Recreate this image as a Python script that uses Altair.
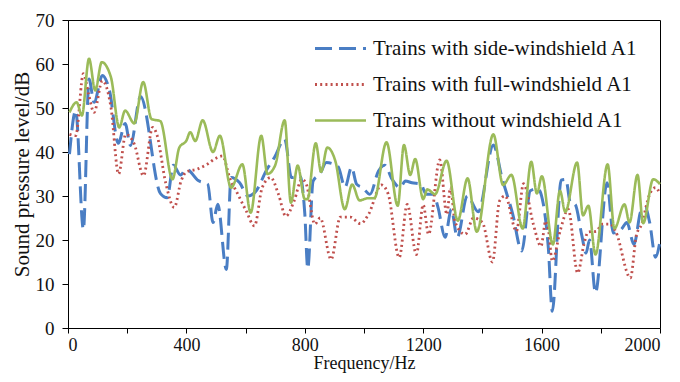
import altair as alt
import pandas as pd

series_names = [
    "Trains with side-windshield A1",
    "Trains with full-windshield A1",
    "Trains without windshield A1",
]
series_colors = ["#4A7EC4", "#C0504D", "#9BBB59"]
series_dashes = [[17, 7], [2, 3.2], [1, 0]]
series_widths = [3, 2.6, 3.2]

x_ticks = list(range(0, 2001, 200))
y_ticks = list(range(0, 71, 10))

# Trains with side-windshield A1
side_f = [5, 26, 52, 71, 88, 116, 140, 170, 193, 211, 245, 312, 335, 356, 380, 400,
          440, 472, 490, 506, 535, 551, 580, 608, 636, 670, 698, 732, 755, 783, 800,
          810, 828, 851, 873, 912, 936, 958, 975, 995, 1020, 1049, 1070, 1095, 1122,
          1140, 1162, 1192, 1210, 1235, 1250, 1274, 1295, 1315, 1349, 1386, 1437,
          1466, 1502, 1533, 1562, 1587, 1606, 1623, 1636, 1666, 1682, 1697, 1713,
          1736, 1750, 1762, 1782, 1821, 1842, 1870, 1888, 1912, 1935, 1950, 1965,
          1985, 2000]
side_db = [39.5, 49.4, 22.4, 56.6, 51.3, 57.4, 54, 42, 46.5, 41.5, 52.6, 30.6, 29.6,
           37, 34.8, 36.1, 33.5, 32.7, 24, 28.1, 13.3, 34.2, 33, 30, 31.2, 35.8, 38.8,
           42.9, 34.2, 34.6, 26, 13.5, 33.4, 35, 37.6, 36.7, 32, 36.5, 32.7, 31.9,
           30.4, 35.7, 37, 33.8, 31.9, 33.4, 33, 32.7, 30.4, 30.4, 27.4, 20.6, 27,
           20.6, 30, 26.4, 41.6, 34.2, 26, 17.5, 31.2, 31.7, 28.1, 18, 3.8, 33.6,
           33.8, 28.5, 28.1, 21, 17, 20, 8, 33, 21.6, 22.5, 24, 19, 26.5, 27.4, 24,
           16.1, 19.7]

# Trains with full-windshield A1
full_f = [5, 26, 52, 70, 88, 116, 145, 171, 195, 224, 255, 286, 300, 330, 359, 382,
          400, 436, 470, 500, 522, 546, 574, 602, 630, 656, 685, 711, 736, 764, 790,
          805, 834, 852, 889, 920, 954, 988, 1015, 1059, 1082, 1119, 1146, 1177,
          1200, 1218, 1256, 1280, 1292, 1308, 1342, 1370, 1400, 1434, 1458, 1477,
          1515, 1539, 1572, 1598, 1614, 1623, 1636, 1664, 1690, 1722, 1743, 1757,
          1785, 1805, 1832, 1850, 1900, 1920, 1938, 1965, 1985, 2000]
full_db = [44, 43.7, 57.8, 53, 49, 56.2, 50.2, 35, 44, 41.8, 34.6, 45.6, 44, 33,
           27.4, 33.4, 35.5, 36.1, 37.2, 38.6, 39.1, 34.2, 30.4, 26.6, 23.2, 31.9,
           34.2, 30.4, 25.4, 28.9, 33.8, 32.7, 23.6, 25, 15.6, 25.2, 25.2, 23.7,
           25.8, 32.5, 30.4, 16, 28.1, 16.7, 28, 21.3, 38.2, 25.8, 31.9, 24, 21.3,
           25, 24, 15, 28.9, 30, 22, 32.8, 23.6, 18.6, 24.3, 22.4, 15.2, 22.4, 27,
           12.5, 19, 21.8, 22, 23.6, 23.6, 22, 11.4, 21, 23.6, 30.4, 31.9, 30.4]

# Trains without windshield A1
none_f = [5, 29, 47, 71, 92, 114, 145, 173, 193, 224, 254, 282, 312, 353, 376, 400,
          413, 430, 455, 490, 513, 551, 589, 617, 653, 674, 700, 732, 753, 776, 800,
          809, 837, 855, 876, 903, 935, 960, 985, 1013, 1035, 1076, 1114, 1135, 1156,
          1173, 1200, 1214, 1240, 1279, 1317, 1350, 1381, 1437, 1470, 1498, 1536,
          1565, 1584, 1601, 1638, 1662, 1680, 1720, 1740, 1758, 1782, 1823, 1846,
          1880, 1897, 1924, 1943, 1977, 2000]
none_db = [49, 51.3, 48.3, 61.2, 54, 60.4, 57, 45.6, 49.4, 46.5, 55.9, 47.5, 47,
           33.8, 41, 42.6, 44.5, 42.5, 47.2, 40, 43.7, 31.9, 37.2, 26.2, 43.7, 35,
           37, 47.2, 28.5, 36.9, 29.3, 29.3, 42, 35.5, 41, 38, 27, 32.6, 29, 29.5,
           29.5, 42.2, 27.8, 41.6, 34.8, 38.4, 29.3, 31.5, 30.4, 38, 24.4, 34, 21.9,
           44, 32.5, 34.8, 22.6, 37.8, 30.6, 34.5, 19, 31.2, 26.4, 37.6, 25.6, 27.8,
           16.7, 37.2, 22.6, 28.1, 24, 34.8, 23.8, 33.8, 32.7]

rows = []
for name, fs, ds in zip(series_names, [side_f, full_f, none_f], [side_db, full_db, none_db]):
    for f, d in zip(fs, ds):
        rows.append({"series": name, "freq": f, "spl": d})
df = pd.DataFrame(rows)

FONT = "Liberation Serif"

legend = alt.Legend(
    title=None,
    orient="none",
    legendX=262,
    legendY=18,
    symbolType="M-3,0H3",
    symbolSize=289,
    symbolStrokeWidth=3,
    labelFont=FONT,
    labelFontSize=21,
    labelColor="#111111",
    labelLimit=400,
    labelOffset=22,
    rowPadding=14,
    padding=0,
)

chart = (
    alt.Chart(df)
    .mark_line(interpolate="monotone")
    .encode(
        x=alt.X(
            "freq:Q",
            scale=alt.Scale(domain=[0, 2000], nice=False),
            axis=alt.Axis(
                values=x_ticks,
                labelExpr="datum.value % 400 == 0 ? datum.label : ''",
                format="d",
                title="Frequency/Hz",
                tickSize=5,
                labelPadding=3,
                titlePadding=0,
                labelFontSize=18,
                titleFontSize=18,
            ),
        ),
        y=alt.Y(
            "spl:Q",
            scale=alt.Scale(domain=[0, 70], nice=False),
            axis=alt.Axis(
                values=y_ticks,
                title="Sound pressure level/dB",
                tickSize=6,
                labelPadding=8,
                titlePadding=3,
                titleFontSize=21,
            ),
        ),
        color=alt.Color(
            "series:N",
            scale=alt.Scale(domain=series_names, range=series_colors),
            legend=legend,
        ),
        strokeDash=alt.StrokeDash(
            "series:N",
            scale=alt.Scale(domain=series_names, range=series_dashes),
            legend=legend,
        ),
        strokeWidth=alt.StrokeWidth(
            "series:N",
            scale=alt.Scale(domain=series_names, range=series_widths),
            legend=legend,
        ),
    )
    .properties(
        width=592,
        height=308,
        autosize=alt.AutoSizeParams(type="none"),
        padding={"left": 60, "top": 12, "right": 12, "bottom": 46},
    )
    .configure_view(stroke="#000000", strokeWidth=1)
    .configure_axis(
        grid=False,
        domainColor="#000000",
        tickColor="#000000",
        labelFont=FONT,
        labelFontSize=19,
        labelColor="#111111",
        titleFont=FONT,
        titleFontWeight="normal",
        titleColor="#111111",
    )
)

chart.save("out.html", embed_options={"renderer": "svg", "actions": False})
